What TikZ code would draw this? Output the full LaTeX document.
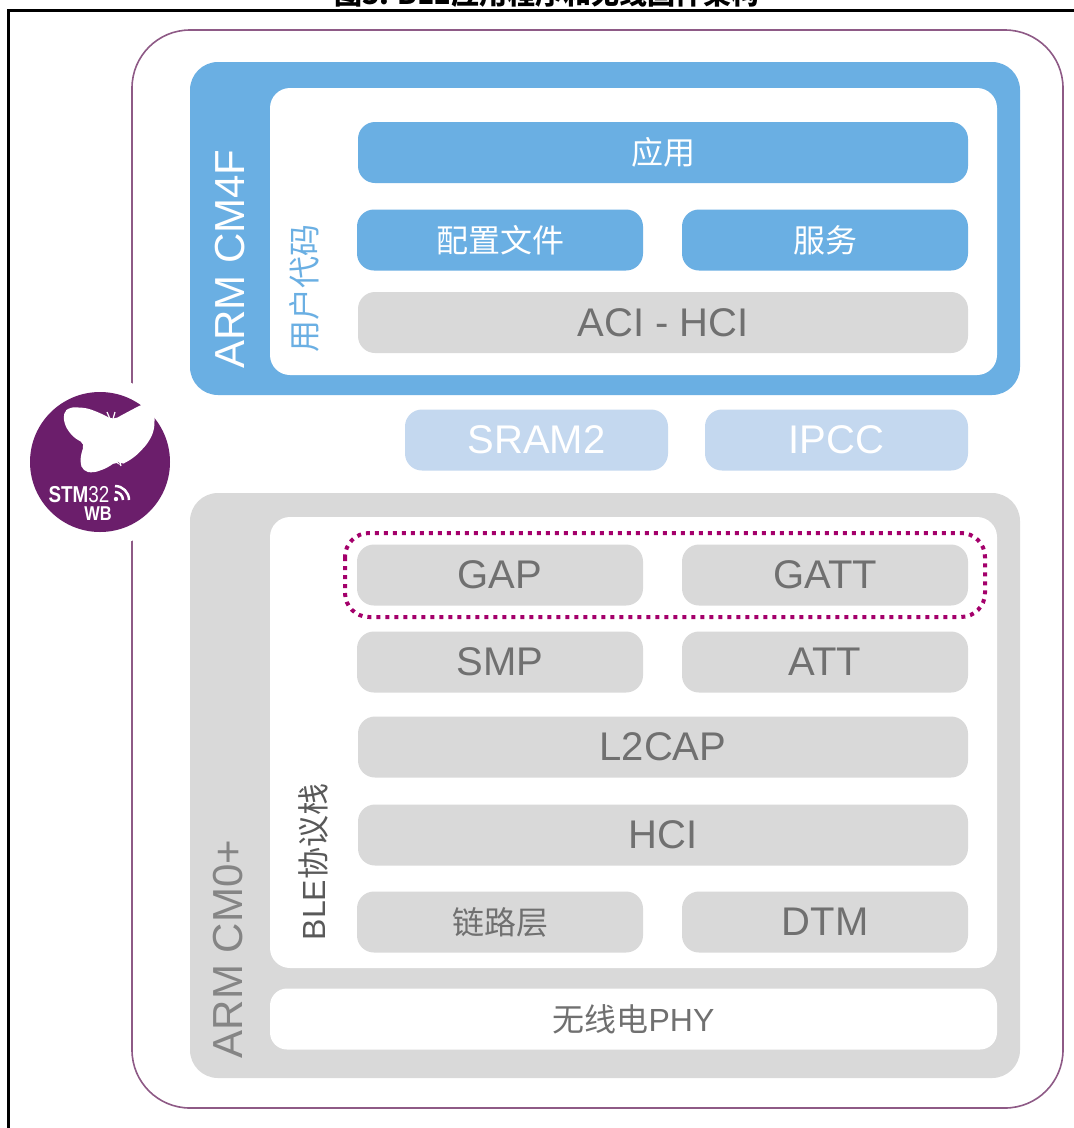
\documentclass[tikz,border=0pt]{standalone}
\usepackage{fontspec}
\setmainfont{Liberation Sans}
\newfontfamily\cjk{Noto Sans CJK SC}
\definecolor{cmblue}{HTML}{6AAFE3}
\definecolor{ltblue}{HTML}{C4D8EF}
\definecolor{cmgray}{HTML}{D9D9D9}
\definecolor{txtgray}{HTML}{707070}
\definecolor{framepurple}{HTML}{8E5A86}
\definecolor{logopurple}{HTML}{6B1E6B}
\definecolor{dotmagenta}{HTML}{A4006B}
\newcommand\boxfont{\fontsize{40}{40}\selectfont}
\newcommand\sidefont{\fontsize{42}{42}\selectfont}
\newcommand\cjkfont{\cjk\fontsize{32}{32}\selectfont}

\begin{document}
\begin{tikzpicture}[x=1pt,y=-1pt,
	layer/.style={rounded corners=17pt, minimum height=61pt, inner sep=0pt},
	bluelayer/.style={layer, fill=cmblue, text=white},
	graylayer/.style={layer, fill=cmgray, text=txtgray},
	memlayer/.style={layer, fill=ltblue, text=white, minimum width=263pt},
	half/.style={minimum width=286pt},
	full/.style={minimum width=610pt}]
	\useasboundingbox (0,0) rectangle (1074,1128);
	\fill[white] (0,0) rectangle (1074,1128);
	% title, cut at the top of the page
	\node[anchor=base, font=\cjk\bfseries\fontsize{28}{28}\selectfont] (title) at (547,4) {图3. BLE应用程序和无线固件架构};
	\draw[line width=3pt] (8,1140) -- (8,10) -- (1090,10);
	% outer frame and logo
	\draw[framepurple, line width=1.6pt, rounded corners=58pt] (132,30) rectangle (1063,1108);
	\fill[white] (100,462) circle (85);
	\fill[logopurple] (100,462) circle (70);
	\fill[white, rounded corners=5pt] (63,413) -- (70,407) -- (87,408) -- (100,413) -- (108,417) -- (113,420) -- (122,415) -- (137,407) -- (152,400) -- (155,411) -- (154,431) -- (148,443) -- (137,455) -- (127,462) -- (120,465) -- (117,461) -- (107,468) -- (93,473) -- (83,471) -- (80,462) -- (82,450) -- (85,444) -- (73,437) -- (65,426) -- cycle;
	\draw[white, line width=1.2pt] (110,419) -- (107,412);
	\draw[white, line width=1.2pt] (113,419) -- (115,412);
	\draw[white, line width=1.2pt] (118,456) -- (121,466);
	\node[anchor=base, text=white, font=\fontsize{23}{23}\selectfont] (stm) at (79,502) {\scalebox{0.82}[1]{\textbf{STM}32}};
	\node[anchor=base, text=white, font=\bfseries\fontsize{20}{20}\selectfont] (wb) at (98,520) {\scalebox{0.82}[1]{WB}};
	\fill[white] (116,499) circle (2.2);
	\draw[white, line width=2.5pt] (115,492) arc[start angle=-90, end angle=0, radius=8];
	\draw[white, line width=2.5pt] (115,486) arc[start angle=-90, end angle=0, radius=14];
	% ARM CM4F
	\fill[cmblue, rounded corners=28pt] (190,62) rectangle (1020,395);
	\fill[white, rounded corners=20pt] (270,88) rectangle (997,375);
	\node[rotate=90, text=white, font=\sidefont] (cm4) at (230,259) {ARM CM4F};
	\node[rotate=90, text=cmblue, font=\cjkfont] (user) at (304,288) {用户代码};
	\node[bluelayer, full, font=\cjkfont] (app) at (663,152.5) {应用};
	\node[bluelayer, half, font=\cjkfont] (profile) at (500,240) {配置文件};
	\node[bluelayer, half, font=\cjkfont] (service) at (825,240) {服务};
	\node[graylayer, full, font=\boxfont] (aci) at (663,322.5) {ACI - HCI};
	% shared memory
	\node[memlayer, font=\boxfont] (sram) at (536.5,440) {SRAM2};
	\node[memlayer, font=\boxfont] (ipcc) at (836.5,440) {IPCC};
	% ARM CM0+
	\fill[cmgray, rounded corners=28pt] (190,493) rectangle (1020,1078);
	\fill[white, rounded corners=20pt] (270,517) rectangle (997,968);
	\node[rotate=90, text=txtgray!85, font=\sidefont] (cm0) at (228,949) {ARM CM0+};
	\node[rotate=90, text=black!65, font=\fontsize{32}{32}\selectfont] (ble) at (313,862) {BLE{\cjk 协议栈}};
	\node[graylayer, half, font=\boxfont] (gap) at (500,575) {GAP};
	\node[graylayer, half, font=\boxfont] (gatt) at (825,575) {GATT};
	\draw[dotmagenta, line width=4pt, dash pattern=on 4pt off 5pt, rounded corners=24pt] (345,533) rectangle (985,617);
	\node[graylayer, half, font=\boxfont] (smp) at (500,662) {SMP};
	\node[graylayer, half, font=\boxfont] (att) at (825,662) {ATT};
	\node[graylayer, full, font=\boxfont] (l2cap) at (663,747) {L2CAP};
	\node[graylayer, full, font=\boxfont] (hci) at (663,835) {HCI};
	\node[graylayer, half, font=\cjkfont] (link) at (500,922) {链路层};
	\node[graylayer, half, font=\boxfont] (dtm) at (825,922) {DTM};
	\node[layer, fill=white, text=txtgray, minimum width=727pt, font=\fontsize{32}{32}\selectfont] (phy) at (633.5,1019) {{\cjk 无线电}PHY};
\end{tikzpicture}
\end{document}
